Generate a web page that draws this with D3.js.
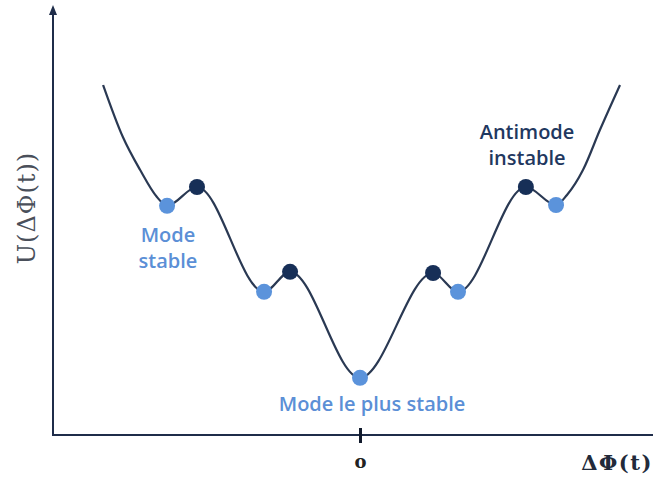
<!DOCTYPE html>
<html>
<head>
<meta charset="utf-8">
<script src="https://cdn.jsdelivr.net/npm/d3@7/dist/d3.min.js"></script>
<style>
  html, body { margin: 0; padding: 0; background: #fff; }
  svg { display: block; }
</style>
</head>
<body>
<svg id="chart" width="653" height="481"></svg>
<script>
// Curve samples (ΔΦ in arbitrary units, U in arbitrary units)
const curveX = [-0.988, -0.912, -0.846, -0.781, -0.742, -0.627, -0.369, -0.269, 0.0, 0.281, 0.377, 0.638, 0.754, 0.796, 0.858, 0.923, 1.0];
const curveU = [8.75, 7.45, 6.63, 5.95, 5.73, 6.2, 3.58, 4.08, 1.43, 4.05, 3.58, 6.2, 5.75, 6.0, 6.63, 7.63, 8.75];

// Extrema (modes = stable minima, antimodes = unstable maxima)
const modeX = [-0.742, -0.369, 0.0, 0.377, 0.754];
const modeU = [5.73, 3.58, 1.43, 3.58, 5.75];
const antimodeX = [-0.627, -0.269, 0.281, 0.638];
const antimodeU = [6.2, 4.08, 4.05, 6.2];

const xTicks = [0];
const xTickLabels = ["o"];
const xLabel = "ΔΦ(t)";
const yLabel = "U(ΔΦ(t))";

const svg = d3.select("#chart");
const W = 653, H = 481;
const axisX0 = 53, axisY0 = 435;

const x = d3.scaleLinear().domain([-1, 1]).range([100, 620]);
const y = d3.scaleLinear().domain([0, 10]).range([axisY0, 35]);

const axisColor = "#1f2d4a";
const lineColor = "#2a3953";
const lightBlue = "#5b93db";
const darkBlue = "#172f57";

// y axis with arrow head
svg.append("line")
  .attr("x1", axisX0).attr("y1", axisY0)
  .attr("x2", axisX0).attr("y2", 12)
  .attr("stroke", axisColor).attr("stroke-width", 2);
svg.append("path")
  .attr("d", d3.line()([[axisX0 - 4, 15], [axisX0, 5], [axisX0 + 4, 15]]) + "Z")
  .attr("fill", axisColor);

// x axis line
svg.append("line")
  .attr("x1", axisX0 - 1).attr("y1", axisY0)
  .attr("x2", W).attr("y2", axisY0)
  .attr("stroke", axisColor).attr("stroke-width", 2);

// x axis tick via d3 axis
const xAxis = d3.axisBottom(x).tickValues(xTicks).tickSize(7)
  .tickFormat((d, i) => xTickLabels[i]);
const gx = svg.append("g").attr("transform", `translate(0,${axisY0})`).call(xAxis);
gx.select(".domain").remove();
gx.selectAll(".tick line")
  .attr("y1", -7).attr("y2", 8)
  .attr("stroke", "#111a2c").attr("stroke-width", 3);
gx.selectAll(".tick text")
  .attr("y", 27)
  .attr("dy", "0.35em")
  .attr("font-family", "DejaVu Serif, serif")
  .attr("font-weight", "bold")
  .attr("font-size", 18)
  .attr("fill", "#222");

// axis labels
svg.append("text")
  .attr("x", 617).attr("y", 470)
  .attr("text-anchor", "middle")
  .attr("font-family", "DejaVu Serif, serif")
  .attr("font-weight", "bold")
  .attr("font-size", 21)
  .attr("letter-spacing", 1.5)
  .attr("fill", "#222a3a")
  .text(xLabel);

svg.append("text")
  .attr("transform", "translate(35,208) rotate(-90)")
  .attr("text-anchor", "middle")
  .attr("font-family", "DejaVu Serif, serif")
  .attr("font-size", 24)
  .attr("letter-spacing", 1)
  .attr("fill", "#4a4f5a")
  .text(yLabel);

// curve
const pts = curveX.map((d, i) => [d, curveU[i]]);
const line = d3.line().x(d => x(d[0])).y(d => y(d[1])).curve(d3.curveMonotoneX);
svg.append("path")
  .attr("d", line(pts))
  .attr("fill", "none")
  .attr("stroke", lineColor)
  .attr("stroke-width", 2.2);

// dots
svg.selectAll("circle.mode").data(modeX).enter().append("circle")
  .attr("class", "mode")
  .attr("cx", d => x(d))
  .attr("cy", (d, i) => y(modeU[i]))
  .attr("r", 8)
  .attr("fill", lightBlue);

svg.selectAll("circle.anti").data(antimodeX).enter().append("circle")
  .attr("class", "anti")
  .attr("cx", d => x(d))
  .attr("cy", (d, i) => y(antimodeU[i]))
  .attr("r", 8)
  .attr("fill", darkBlue);

// annotations
const font = "Open Sans, Lato, sans-serif";
function label(lines, cx, baseline, color) {
  const t = svg.append("text")
    .attr("text-anchor", "middle")
    .attr("font-family", font)
    .attr("font-weight", 600)
    .attr("font-size", 20)
    .attr("fill", color);
  lines.forEach((s, i) => {
    t.append("tspan").attr("x", cx).attr("y", baseline + i * 26).text(s);
  });
}
label(["Antimode", "instable"], 527, 139, "#1f3860");
label(["Mode", "stable"], 168, 242, "#5b8fd6");
label(["Mode le plus stable"], 372, 411, "#5b8fd6");
</script>
</body>
</html>
